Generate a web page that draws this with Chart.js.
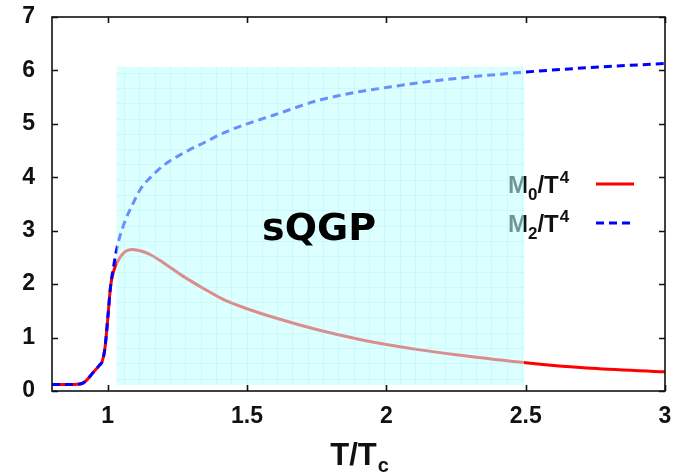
<!DOCTYPE html>
<html>
<head>
<meta charset="utf-8">
<script src="https://cdn.jsdelivr.net/npm/chart.js@4"></script>
<style>
  html, body { margin:0; padding:0; background:#fff; }
  canvas { display:block; }
</style>
</head>
<body>
<canvas id="chart" width="679" height="476"></canvas>
<script>
// ---------- data ----------
const tValues = [0.8,0.85,0.9,0.92,0.945,0.97,0.98,0.99,1.0,1.01,1.02,1.035,1.06,1.09,1.12,1.15,1.2,1.27,1.35,1.42,1.5,1.6,1.75,1.9,2.0,2.12,2.25,2.5,2.72,3.0];
const m0Values = [0.12,0.12,0.13,0.18,0.33,0.48,0.55,0.8,1.35,1.95,2.22,2.42,2.6,2.65,2.62,2.56,2.40,2.15,1.90,1.70,1.54,1.37,1.15,0.97,0.87,0.77,0.68,0.53,0.43,0.36];
const m2Values = [0.12,0.12,0.13,0.18,0.33,0.48,0.55,0.8,1.35,1.95,2.3,2.72,3.15,3.5,3.8,3.98,4.22,4.45,4.66,4.84,5.0,5.17,5.43,5.6,5.68,5.77,5.85,5.97,6.05,6.13];

const xTicks = [1,1.5,2,2.5,3];
const yTicks = [0,1,2,3,4,5,6,7];

const shadeX = [1.032, 2.494];
const shadeY = [0.11, 6.07];
const shadeLabel = "sQGP";

const seriesNames = [["M","0","/T","4"],["M","2","/T","4"]];
const axisTitle = ["T/T","c"];

function pts(ys){ return tValues.map((x,i)=>({x:x, y:ys[i]})); }

// ---------- decoration plugin ----------
const decor = {
  id:'decor',
  afterDatasetsDraw(chart){
    const c = chart.ctx, a = chart.chartArea;
    const xs = chart.scales.x, ys = chart.scales.y;
    c.save();

    // legend (drawn before the shaded box so the box tints it)
    const legY = [193, 232];
    const legColors = ['#ff0000','#0000ff'];
    seriesNames.forEach((n,i)=>{
      let x = 508, y = legY[i];
      c.fillStyle = '#111';
      c.textBaseline = 'alphabetic';
      c.font = 'bold 24px "Liberation Sans", Arial, sans-serif';
      c.fillText(n[0], x, y); x += c.measureText(n[0]).width;
      c.font = 'bold 17px "Liberation Sans", Arial, sans-serif';
      c.fillText(n[1], x, y+7); x += c.measureText(n[1]).width;
      c.font = 'bold 24px "Liberation Sans", Arial, sans-serif';
      c.fillText(n[2], x, y); x += c.measureText(n[2]).width;
      c.font = 'bold 17px "Liberation Sans", Arial, sans-serif';
      c.fillText(n[3], x+1, y-10);
      c.beginPath();
      c.strokeStyle = legColors[i];
      c.lineWidth = 3;
      c.setLineDash(i===1 ? [8,5] : []);
      c.moveTo(596, y-9); c.lineTo(634, y-9);
      c.stroke();
      c.setLineDash([]);
    });

    // shaded region
    const x0 = xs.getPixelForValue(shadeX[0]), x1 = xs.getPixelForValue(shadeX[1]);
    const y0 = ys.getPixelForValue(shadeY[1]), y1 = ys.getPixelForValue(shadeY[0]);
    c.fillStyle = 'rgba(191,255,255,0.55)';
    c.fillRect(x0, y0, x1-x0, y1-y0);
    c.strokeStyle = 'rgba(120,230,230,0.18)';
    c.lineWidth = 1;
    c.beginPath();
    for(let gx = x0+7.5; gx < x1; gx += 15.3){ c.moveTo(Math.round(gx)+0.5, y0); c.lineTo(Math.round(gx)+0.5, y1); }
    for(let gy = y0+6; gy < y1; gy += 15.3){ c.moveTo(x0, Math.round(gy)+0.5); c.lineTo(x1, Math.round(gy)+0.5); }
    c.stroke();

    // label inside region
    c.fillStyle = '#000';
    c.font = 'bold 38px "DejaVu Sans", sans-serif';
    c.textAlign = 'center';
    c.textBaseline = 'middle';
    c.fillText(shadeLabel, 319, 230);
    c.restore();
  },
  afterDraw(chart){
    const c = chart.ctx, a = chart.chartArea;
    const xs = chart.scales.x, ys = chart.scales.y;
    c.save();
    c.strokeStyle = '#111';
    c.lineWidth = 1.6;
    c.strokeRect(a.left, a.top, a.right-a.left, a.bottom-a.top);
    c.beginPath();
    const tl = 6;
    xTicks.forEach(v=>{
      const p = Math.round(xs.getPixelForValue(v))+0.5;
      c.moveTo(p, a.bottom); c.lineTo(p, a.bottom-tl);
      c.moveTo(p, a.top); c.lineTo(p, a.top+tl);
    });
    yTicks.forEach(v=>{
      const p = Math.round(ys.getPixelForValue(v))+0.5;
      c.moveTo(a.left, p); c.lineTo(a.left+tl, p);
      c.moveTo(a.right, p); c.lineTo(a.right-tl, p);
    });
    c.stroke();

    // x axis title with subscript
    c.fillStyle = '#111';
    c.textBaseline = 'alphabetic';
    c.font = 'bold 31px "Liberation Sans", Arial, sans-serif';
    const w1 = c.measureText(axisTitle[0]).width;
    c.font = 'bold 20px "Liberation Sans", Arial, sans-serif';
    const w2 = c.measureText(axisTitle[1]).width;
    let x = 359 - (w1+w2)/2;
    c.font = 'bold 31px "Liberation Sans", Arial, sans-serif';
    c.fillText(axisTitle[0], x, 465);
    c.font = 'bold 20px "Liberation Sans", Arial, sans-serif';
    c.fillText(axisTitle[1], x+w1+1, 472);
    c.restore();
  }
};

// ---------- chart ----------
new Chart(document.getElementById('chart'), {
  type:'line',
  data:{
    datasets:[
      {
        label:'M0/T4',
        data:pts(m0Values),
        borderColor:'#ff0000',
        borderWidth:3,
        pointRadius:0,
        cubicInterpolationMode:'monotone',
        order:2
      },
      {
        label:'M2/T4',
        data:pts(m2Values),
        borderColor:'#0000ff',
        borderWidth:3,
        borderDash:[8,5],
        pointRadius:0,
        cubicInterpolationMode:'monotone',
        order:1
      }
    ]
  },
  options:{
    responsive:false,
    devicePixelRatio:1,
    animation:false,
    layout:{ padding:{ top:17, right:14, left:0, bottom:0 } },
    plugins:{ legend:{ display:false }, tooltip:{ enabled:false } },
    scales:{
      x:{
        type:'linear',
        min:0.8, max:3,
        grid:{ display:false, drawTicks:false },
        border:{ display:false },
        afterBuildTicks(s){ s.ticks = xTicks.map(v=>({value:v})); },
        afterFit(s){ s.height = 85; s.paddingLeft = 0; s.paddingRight = 0; },
        ticks:{
          padding:12,
          color:'#111',
          font:{ family:'"Liberation Sans", Arial, sans-serif', size:23, weight:'bold' },
          callback:v=>String(v)
        }
      },
      y:{
        min:0, max:7,
        grid:{ display:false, drawTicks:false },
        border:{ display:false },
        afterBuildTicks(s){ s.ticks = yTicks.map(v=>({value:v})); },
        afterFit(s){ s.width = 52; s.paddingTop = 0; s.paddingBottom = 0; },
        ticks:{
          padding:17,
          color:'#111',
          font:{ family:'"Liberation Sans", Arial, sans-serif', size:23, weight:'bold' },
          callback:v=>String(v)
        }
      }
    }
  },
  plugins:[decor]
});
</script>
</body>
</html>
